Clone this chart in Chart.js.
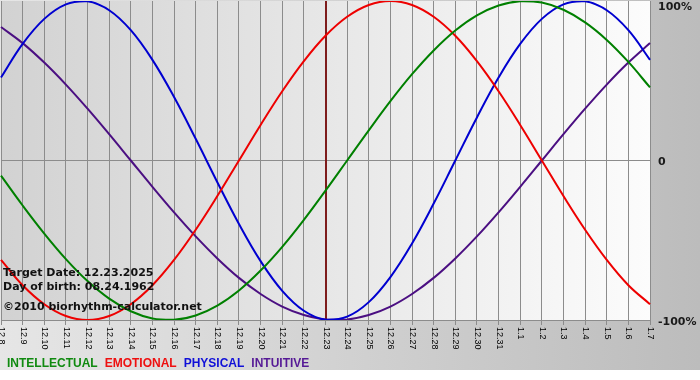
<!DOCTYPE html>
<html>
<head>
<meta charset="utf-8">
<script src="https://cdn.jsdelivr.net/npm/chart.js@4/dist/chart.umd.min.js"></script>
<style>
  html, body { margin: 0; padding: 0; background: #fff; }
  #wrap { width: 700px; height: 380px; position: relative; }
</style>
</head>
<body>
<div id="wrap"><canvas id="bio"></canvas></div>
<script>
// Ngày hiển thị trên trục X
const days = ['12.8', '12.9', '12.10', '12.11', '12.12', '12.13', '12.14', '12.15', '12.16', '12.17',
    '12.18', '12.19', '12.20', '12.21', '12.22', '12.23', '12.24', '12.25', '12.26', '12.27',
    '12.28', '12.29', '12.30', '12.31', '1.1', '1.2', '1.3', '1.4', '1.5', '1.6', '1.7'];

// Giá trị các chu kỳ (%)
const intellectual = [-9.5, -28.2, -45.8, -61.8, -75.6, -86.6, -94.5, -99.0, -99.9, -97.2,
    -91.0, -81.5, -69.0, -54.1, -37.2, -18.9, 0, 18.9, 37.2, 54.1,
    69.0, 81.5, 91.0, 97.2, 99.9, 99.0, 94.5, 86.6, 75.6, 61.8, 45.8];
const emotional = [-62.3, -78.2, -90.1, -97.5, -100, -97.5, -90.1, -78.2, -62.3, -43.4,
    -22.3, 0, 22.3, 43.4, 62.3, 78.2, 90.1, 97.5, 100, 97.5,
    90.1, 78.2, 62.3, 43.4, 22.3, 0, -22.3, -43.4, -62.3, -78.2, -90.1];
const physical = [52.0, 73.1, 88.8, 97.9, 99.8, 94.2, 81.7, 63.1, 39.8, 13.6,
    -13.6, -39.8, -63.1, -81.7, -94.2, -99.8, -97.9, -88.8, -73.1, -52.0,
    -27.0, 0, 27.0, 52.0, 73.1, 88.8, 97.9, 99.8, 94.2, 81.7, 63.1];
const intuitive = [83.7, 73.6, 61.4, 47.6, 32.5, 16.5, 0, -16.5, -32.5, -47.6,
    -61.4, -73.6, -83.7, -91.6, -96.9, -99.7, -99.7, -96.9, -91.6, -83.7,
    -73.6, -61.4, -47.6, -32.5, -16.5, 0, 16.5, 32.5, 47.6, 61.4, 73.6];

const yTicks = [100, 0, -100];
const targetDay = '12.23';
const infoLines = ['Target Date: 12.23.2025', 'Day of birth: 08.24.1962', '\u00a92010 biorhythm-calculator.net'];

const GRID = '#8c8c8c';
const BOLD11 = 'bold 11px "DejaVu Sans"';

const series = [
    { label: 'INTELLECTUAL', data: intellectual, line: '#008000', text: '#108a10' },
    { label: 'EMOTIONAL', data: emotional, line: '#ee0000', text: '#ee1010' },
    { label: 'PHYSICAL', data: physical, line: '#0000d0', text: '#1010d8' },
    { label: 'INTUITIVE', data: intuitive, line: '#4b0f82', text: '#561a96' }
];

const bioDeco = {
    id: 'bioDeco',
    beforeDraw(chart) {
        const { ctx, chartArea: a, width, height } = chart;
        ctx.save();
        // nền ngoài
        let g = ctx.createLinearGradient(0, 0, width, 0);
        g.addColorStop(0, '#e6e6e6');
        g.addColorStop(1, '#bcbcbc');
        ctx.fillStyle = g;
        ctx.fillRect(0, 0, width, 370);
        ctx.fillStyle = '#ffffff';
        ctx.fillRect(0, 370, width, height - 370);
        // nền vùng vẽ
        g = ctx.createLinearGradient(a.left, 0, a.right, 0);
        g.addColorStop(0, '#d2d2d2');
        g.addColorStop(1, '#fcfcfc');
        ctx.fillStyle = g;
        ctx.fillRect(a.left, a.top, a.right - a.left, a.bottom - a.top);
        ctx.restore();
    },
    beforeDatasetsDraw(chart) {
        // đường ngày mục tiêu
        const { ctx, chartArea: a } = chart;
        const x = Math.round(chart.scales.x.getPixelForValue(days.indexOf(targetDay)));
        ctx.save();
        ctx.strokeStyle = '#7e1c1c';
        ctx.lineWidth = 2;
        ctx.beginPath();
        ctx.moveTo(x, a.top);
        ctx.lineTo(x, a.bottom);
        ctx.stroke();
        ctx.restore();
    },
    afterDatasetsDraw(chart) {
        const { ctx, chartArea: a } = chart;
        ctx.save();
        ctx.font = BOLD11;
        ctx.fillStyle = '#111';
        ctx.textBaseline = 'alphabetic';
        ctx.textAlign = 'left';
        const ys = [276, 290, 310];
        infoLines.forEach((t, i) => ctx.fillText(t, a.left + 2, ys[i]));
        ctx.restore();
    },
    afterDraw(chart) {
        const { ctx, chartArea: a } = chart;
        const xs = chart.scales.x, yS = chart.scales.y;
        ctx.save();
        // nhãn trục X, xoay 90 độ theo chiều kim đồng hồ
        ctx.font = '9px "Liberation Sans"';
        ctx.fillStyle = '#000';
        ctx.textAlign = 'left';
        ctx.textBaseline = 'middle';
        days.forEach((d, i) => {
            const x = xs.getPixelForTick(i);
            ctx.save();
            ctx.translate(x + 0.5, a.bottom + 7);
            ctx.rotate(Math.PI / 2);
            ctx.fillText(d, 0, 0);
            ctx.restore();
        });
        // nhãn trục Y bên phải
        ctx.font = BOLD11;
        ctx.fillStyle = '#1a1a1a';
        yTicks.forEach(v => {
            const y = Math.max(yS.getPixelForValue(v) + 2, 7);
            ctx.fillText(v === 0 ? '0' : v + '%', a.right + 8, y);
        });
        // chú giải
        ctx.font = 'bold 12px "Liberation Sans"';
        ctx.textBaseline = 'alphabetic';
        let lx = 7;
        series.forEach(s => {
            ctx.fillStyle = s.text;
            ctx.fillText(s.label, lx, 367);
            lx += ctx.measureText(s.label).width + 7;
        });
        ctx.restore();
    }
};

new Chart(document.getElementById('bio'), {
    type: 'line',
    data: {
        labels: days,
        datasets: series.map(s => ({
            label: s.label,
            data: s.data,
            borderColor: s.line,
            borderWidth: 2,
            pointRadius: 0,
            tension: 0.4,
            fill: false
        }))
    },
    options: {
        responsive: true,
        maintainAspectRatio: false,
        animation: false,
        events: [],
        layout: { padding: { top: 1, left: 1, right: 0, bottom: 0 }, autoPadding: false },
        plugins: {
            legend: { display: false },
            tooltip: { enabled: false }
        },
        scales: {
            x: {
                offset: false,
                grid: { color: GRID, lineWidth: 1, drawTicks: true, tickLength: 5, tickColor: GRID },
                border: { color: GRID },
                ticks: { display: false },
                afterFit: s => { s.height = 60; }
            },
            y: {
                position: 'right',
                min: -100,
                max: 100,
                afterBuildTicks: s => { s.ticks = yTicks.map(v => ({ value: v })); },
                grid: {
                    drawTicks: false,
                    color: ctx => (ctx.tick && ctx.tick.value === 100) ? 'rgba(0,0,0,0)' : GRID
                },
                border: { color: GRID },
                ticks: { display: false },
                afterFit: s => { s.width = 50; }
            }
        }
    },
    plugins: [bioDeco]
});
</script>
</body>
</html>
